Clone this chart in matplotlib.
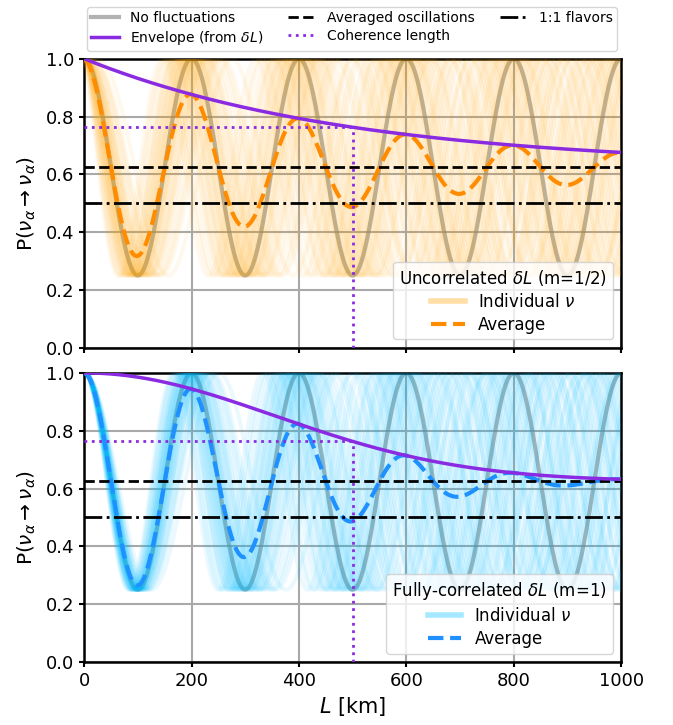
import numpy as np
import matplotlib.pyplot as plt
from matplotlib.lines import Line2D

# model parameters
L_max = 1000.      # km
L_osc = 200.       # oscillation length [km]
P_min = 0.25       # minimum survival probability
L_coh = 500.       # coherence length [km]
m_top = 0.5        # uncorrelated
m_bot = 1.0        # fully correlated

# spread of the individual neutrinos (standard-normal offsets)
z_nu = [-2.24, -1.78, -1.50, -1.29, -1.13, -0.98, -0.86, -0.74, -0.64, -0.54,
        -0.45, -0.36, -0.28, -0.20, -0.12, -0.04, 0.04, 0.12, 0.20, 0.28,
        0.36, 0.45, 0.54, 0.64, 0.74, 0.86, 0.98, 1.13, 1.29, 1.50, 1.78, 2.24,
        -1.62, -0.91, -0.33, 0.08, 0.41, 0.79, 1.21, 1.95]

L = np.linspace(0, L_max, 1001)
k = 2*np.pi/L_osc
amp = (1 - P_min)/2
P_avg = 1 - amp          # averaged oscillations


def prob(L, dL=0.):
    return 1 - (1 - P_min)*np.sin(np.pi*(L + dL)/L_osc)**2


def damping(L, m):
    return np.exp(-(L/L_coh)**(2*m))


def sigma(L, m):
    return np.sqrt(2)/k*(L/L_coh)**m


fig, axes = plt.subplots(2, 1, figsize=(6.73, 7.25), dpi=100, sharex=True)
fig.subplots_adjust(left=0.125, right=0.923, top=0.919, bottom=0.087, hspace=0.087)

panels = [(axes[0], m_top, 'orange', 'darkorange', 'Uncorrelated $\\delta L$ (m=1/2)', 0.07),
          (axes[1], m_bot, 'deepskyblue', 'dodgerblue', 'Fully-correlated $\\delta L$ (m=1)', 0.08)]

P_coh = P_avg + amp*np.exp(-1)

for ax, m, c_ind, c_avg, title, a in panels:
    ax.plot(L, prob(L), color='grey', alpha=0.6, lw=3, zorder=2)
    for z in z_nu:
        ax.plot(L, prob(L, z*sigma(L, m)), color=c_ind, alpha=a, lw=3, zorder=3)
    env = damping(L, m)
    ax.plot(L, P_avg + amp*env, color='blueviolet', lw=2.5, zorder=5)
    ax.plot(L, P_avg + amp*env*np.cos(k*L), '--', color=c_avg, lw=3, zorder=4)
    ax.axhline(P_avg, color='k', ls='--', lw=2, zorder=4)
    ax.axhline(0.5, color='k', ls='-.', lw=2, zorder=4)
    ax.plot([0, L_coh], [P_coh, P_coh], ':', color='blueviolet', lw=2, zorder=4)
    ax.plot([L_coh, L_coh], [0, P_coh], ':', color='blueviolet', lw=2, zorder=4)
    ax.set_xlim(0, L_max)
    ax.set_ylim(0, 1)
    ax.grid(color='darkgrey', lw=1.5)
    ax.set_axisbelow(True)
    ax.set_ylabel(r'P($\nu_\alpha \rightarrow \nu_\alpha$)', fontsize=14.5, labelpad=6)
    ax.tick_params(labelsize=13, width=1.5)
    for s in ax.spines.values():
        s.set_linewidth(1.8)
    h = [Line2D([], [], color=c_ind, alpha=0.35, lw=4),
         Line2D([], [], color=c_avg, ls='--', lw=3)]
    ax.legend(h, [r'Individual $\nu$', 'Average'], title=title, loc='lower right',
              fontsize=12, title_fontsize=12, labelspacing=0.3, borderpad=0.35)

axes[1].set_xlabel(r'$L$ [km]', fontsize=15)
axes[1].set_xticks([0, 200, 400, 600, 800, 1000])

handles = [Line2D([], [], color='grey', alpha=0.6, lw=3),
           Line2D([], [], color='blueviolet', lw=2.5),
           Line2D([], [], color='k', ls='--', lw=2),
           Line2D([], [], color='blueviolet', ls=':', lw=2),
           Line2D([], [], color='k', ls='-.', lw=2)]
labels = ['No fluctuations', r'Envelope (from $\delta L$)', 'Averaged oscillations',
          'Coherence length', '1:1 flavors']
fig.legend(handles, labels, ncol=3, loc='upper center', bbox_to_anchor=(0.523, 1.0),
           fontsize=10, labelspacing=0.25, columnspacing=1.8, borderpad=0.3)

plt.savefig('out.png', dpi=100)
